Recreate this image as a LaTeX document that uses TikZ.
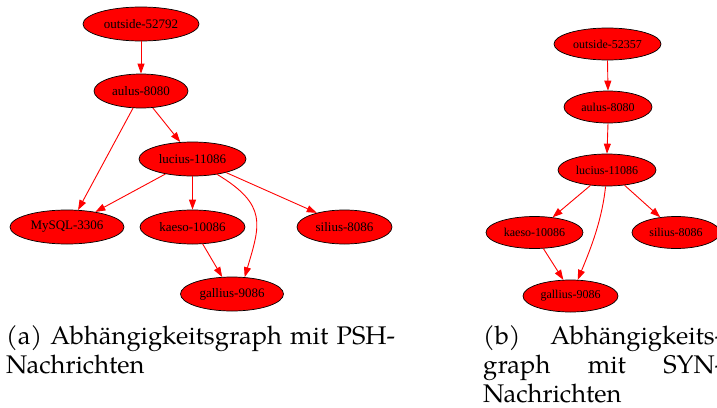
\documentclass[tikz,border=0pt]{standalone}
\usepackage{fontspec}
\newfontfamily\nodefont{Liberation Serif}
\newfontfamily\capfont{TeX Gyre Pagella}
\usetikzlibrary{shapes.geometric,arrows.meta}

\tikzset{
  gnode/.style={ellipse, draw=black, fill=red, line width=0.7pt, inner sep=0pt,
    minimum height=34pt, font=\nodefont\fontsize{13}{13}\selectfont},
  gnodeb/.style={gnode, minimum height=32pt, font=\nodefont\fontsize{12}{12}\selectfont},
  dep/.style={draw=red, line width=0.9pt, -{Triangle[length=10pt,width=7pt]}},
  capline/.style={anchor=base west, inner sep=0pt, font=\capfont\fontsize{25.5}{29}\selectfont},
}

\begin{document}
\begin{tikzpicture}[x=1pt, y=-1pt]
  \useasboundingbox[fill=white] (0,0) rectangle (717,407);

  % (a) dependency graph, PSH messages
  \node[gnode, minimum width=116pt] (outa) at (141,24) {outside-52792};
  \node[gnode, minimum width=94pt]  (aula) at (141,91) {aulus-8080};
  \node[gnode, minimum width=107pt] (luca) at (192.5,159) {lucius-11086};
  \node[gnode, minimum width=114pt] (mysa) at (67,227) {MySQL-3306};
  \node[gnode, minimum width=105pt] (kaea) at (192.5,227) {kaeso-10086};
  \node[gnode, minimum width=95pt]  (sila) at (344.5,227) {silius-8086};
  \node[gnode, minimum width=103pt] (gala) at (232,294) {gallius-9086};

  \draw[dep] (outa.south) -- (aula.north);
  \draw[dep] (aula.-115) -- (mysa.57);
  \draw[dep] (aula.-55) -- (luca.126);
  \draw[dep] (luca.-151) -- (mysa.28);
  \draw[dep] (luca.south) -- (kaea.north);
  \draw[dep] (luca.-22) -- (sila.153);
  \draw[dep] (luca.-32) .. controls (268,205) and (260,225) .. (gala.53);
  \draw[dep] (kaea.-59) -- (gala.120);

  % (b) dependency graph, SYN messages
  \node[gnodeb, minimum width=107pt] (outb) at (607.5,44) {outside-52357};
  \node[gnodeb, minimum width=88pt]  (aulb) at (608,107) {aulus-8080};
  \node[gnodeb, minimum width=98pt]  (lucb) at (607,170) {lucius-11086};
  \node[gnodeb, minimum width=97pt]  (kaeb) at (534.5,232.5) {kaeso-10086};
  \node[gnodeb, minimum width=88pt]  (silb) at (676,232.5) {silius-8086};
  \node[gnodeb, minimum width=95pt]  (galb) at (570.5,296) {gallius-9086};

  \draw[dep] (outb.south) -- (aulb.north);
  \draw[dep] (aulb.south) -- (lucb.north);
  \draw[dep] (lucb.-137) -- (kaeb.40);
  \draw[dep] (lucb.-41) -- (silb.136);
  \draw[dep] (lucb.-95) .. controls (602,220) and (591,248) .. (galb.66);
  \draw[dep] (kaeb.-61) -- (galb.114);

  % sub-captions
  \node[capline] (capa1) at (6,344) {\makebox[389pt][s]{(a) Abhängigkeitsgraph mit PSH-}};
  \node[capline] (capa2) at (6,373) {Nachrichten};
  \node[capline] (capb1) at (483,344) {\makebox[240pt][s]{(b) Abhängigkeits-}};
  \node[capline] (capb2) at (483,373) {\makebox[240pt][s]{graph mit SYN-}};
  \node[capline] (capb3) at (483,402) {Nachrichten};
\end{tikzpicture}
\end{document}
